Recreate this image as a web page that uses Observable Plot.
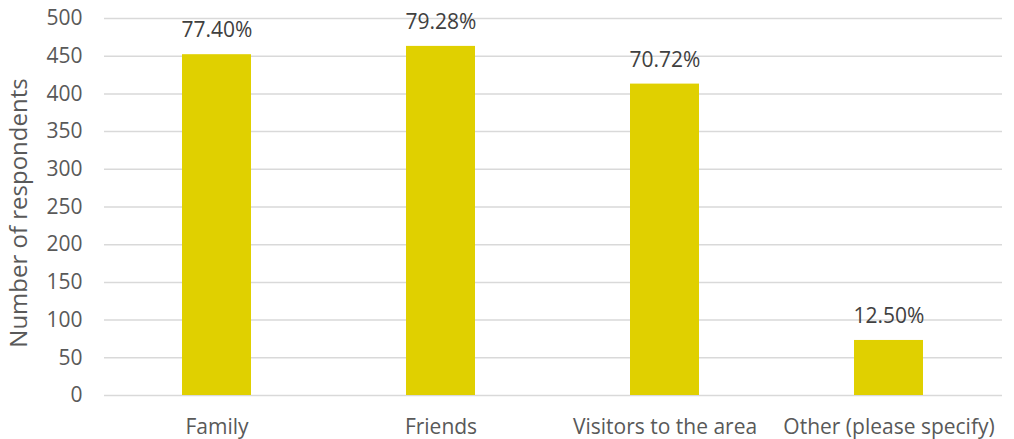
<!DOCTYPE html>
<html><head><meta charset="utf-8">
<script src="https://cdn.jsdelivr.net/npm/d3@7"></script>
<script src="https://cdn.jsdelivr.net/npm/@observablehq/plot@0.6"></script>
<style>
html,body{margin:0;padding:0;background:#fff;}
</style></head><body>
<div id="chart"></div>
<script>
const categories = ["Family", "Friends", "Visitors to the area", "Other (please specify)"];
const respondents = [452, 463, 413, 73];
const percentLabels = ["77.40%", "79.28%", "70.72%", "12.50%"];
const yTicks = [0, 50, 100, 150, 200, 250, 300, 350, 400, 450, 500];
const yTitle = "Number of respondents";

const data = categories.map((c, i) => ({cat: c, value: respondents[i], label: percentLabels[i]}));

const font = "'Open Sans', sans-serif";
const chart = Plot.plot({
  width: 1014,
  height: 439,
  marginLeft: 104,
  marginRight: 12,
  marginTop: 18,
  marginBottom: 44,
  style: {fontFamily: font, fontSize: "21px", color: "#595959", background: "#fff"},
  x: {domain: categories, paddingInner: 0.69, paddingOuter: 0.345, label: null},
  y: {domain: [0, 500], label: null},
  marks: [
    Plot.gridY(yTicks, {stroke: "#d9d9d9", strokeOpacity: 1, strokeWidth: 1.5}),
    Plot.barY(data, {x: "cat", y: "value", fill: "#e0d000"}),
    Plot.text(data, {x: "cat", y: "value", text: "label", dy: -24, fill: "#404040", fontSize: 21}),
    Plot.axisX({tickSize: 0, tickPadding: 24, fontSize: 21, label: null}),
    Plot.axisY({ticks: yTicks, tickSize: 0, tickPadding: 22, fontSize: 21, label: null}),
    Plot.text([yTitle], {frameAnchor: "left", textAnchor: "middle", dx: -85, dy: 6, rotate: -90, fontSize: 24, fill: "#595959"})
  ]
});
document.getElementById("chart").appendChild(chart);
</script>
</body></html>
